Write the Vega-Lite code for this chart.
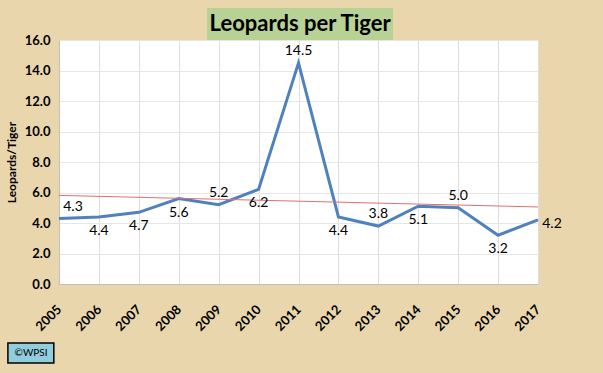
{
  "$schema": "https://vega.github.io/schema/vega-lite/v6.json",
  "width": 479,
  "height": 244,
  "autosize": {"type": "none"},
  "padding": {"left": 59, "top": 40, "right": 65, "bottom": 89},
  "background": "#E9D6AC",
  "config": {
    "view": {"fill": "white", "stroke": null},
    "font": "Lato",
    "axisX": {
      "labelAngle": -45, "labelAlign": "right", "labelBaseline": "middle",
      "labelFontWeight": "bold", "labelFontSize": 13, "labelColor": "black",
      "labelPadding": 23, "ticks": false, "grid": true, "gridColor": "#dedede",
      "domainColor": "#bfbfbf", "labelOverlap": false
    },
    "axisY": {
      "titleFontSize": 12, "titleFontWeight": "bold", "titleColor": "black", "titlePadding": 6,
      "labelFontWeight": "bold", "labelFontSize": 13, "labelColor": "black", "labelPadding": 9,
      "ticks": false, "grid": true, "gridColor": "#e6e6e6", "domainColor": "#bfbfbf"
    }
  },
  "datasets": {
    "series": [
      {"year": 2005, "ratio": 4.3},
      {"year": 2006, "ratio": 4.4},
      {"year": 2007, "ratio": 4.7},
      {"year": 2008, "ratio": 5.6},
      {"year": 2009, "ratio": 5.2},
      {"year": 2010, "ratio": 6.2},
      {"year": 2011, "ratio": 14.5},
      {"year": 2012, "ratio": 4.4},
      {"year": 2013, "ratio": 3.8},
      {"year": 2014, "ratio": 5.1},
      {"year": 2015, "ratio": 5.0},
      {"year": 2016, "ratio": 3.2},
      {"year": 2017, "ratio": 4.2}
    ],
    "titlebox": [{"label": "Leopards per Tiger"}],
    "credit": [{"label": "©WPSI"}]
  },
  "layer": [
    {
      "data": {"name": "series"},
      "encoding": {
        "x": {
          "field": "year", "type": "quantitative",
          "scale": {"domain": [2005, 2017], "nice": false, "zero": false},
          "axis": {"title": null, "format": "d", "values": [2005, 2006, 2007, 2008, 2009, 2010, 2011, 2012, 2013, 2014, 2015, 2016, 2017]}
        },
        "y": {
          "field": "ratio", "type": "quantitative",
          "scale": {"domain": [0, 16], "nice": false},
          "axis": {"title": "Leopards/Tiger", "format": ".1f", "values": [0, 2, 4, 6, 8, 10, 12, 14, 16]}
        }
      },
      "layer": [
        {"mark": {"type": "line", "color": "#4F81BD", "strokeWidth": 3}},
        {
          "transform": [{"regression": "ratio", "on": "year"}],
          "mark": {"type": "line", "color": "#E07070", "strokeWidth": 1}
        },
        {
          "transform": [{"filter": {"field": "year", "oneOf": [2009, 2011, 2013, 2015]}}],
          "mark": {"type": "text", "dy": -12, "fontSize": 14, "color": "black"},
          "encoding": {"text": {"field": "ratio", "format": ".1f"}}
        },
        {
          "transform": [{"filter": {"field": "year", "oneOf": [2006, 2007, 2008, 2010, 2012, 2014, 2016]}}],
          "mark": {"type": "text", "dy": 14, "fontSize": 14, "color": "black"},
          "encoding": {"text": {"field": "ratio", "format": ".1f"}}
        },
        {
          "transform": [{"filter": {"field": "year", "oneOf": [2005]}}],
          "mark": {"type": "text", "dx": 14, "dy": -11, "fontSize": 14, "color": "black"},
          "encoding": {"text": {"field": "ratio", "format": ".1f"}}
        },
        {
          "transform": [{"filter": {"field": "year", "oneOf": [2017]}}],
          "mark": {"type": "text", "dx": 14, "dy": 4, "fontSize": 14, "color": "black"},
          "encoding": {"text": {"field": "ratio", "format": ".1f"}}
        }
      ]
    },
    {
      "data": {"name": "titlebox"},
      "layer": [
        {
          "mark": {"type": "rect", "color": "#B8D194"},
          "encoding": {
            "x": {"datum": 2008.71, "type": "quantitative", "axis": {"title": null, "format": "d", "values": [2005, 2006, 2007, 2008, 2009, 2010, 2011, 2012, 2013, 2014, 2015, 2016, 2017]}},
            "x2": {"datum": 2013.37},
            "y": {"datum": 18.1, "type": "quantitative", "axis": {"title": "Leopards/Tiger", "format": ".1f", "values": [0, 2, 4, 6, 8, 10, 12, 14, 16]}},
            "y2": {"datum": 16.0}
          }
        },
        {
          "mark": {"type": "text", "fontSize": 22, "fontWeight": "bold", "color": "black", "baseline": "middle"},
          "encoding": {
            "x": {"datum": 2011.04, "type": "quantitative", "axis": {"title": null, "format": "d", "values": [2005, 2006, 2007, 2008, 2009, 2010, 2011, 2012, 2013, 2014, 2015, 2016, 2017]}},
            "y": {"datum": 17.02, "type": "quantitative", "axis": {"title": "Leopards/Tiger", "format": ".1f", "values": [0, 2, 4, 6, 8, 10, 12, 14, 16]}},
            "text": {"field": "label"}
          }
        }
      ]
    },
    {
      "data": {"name": "credit"},
      "layer": [
        {
          "mark": {"type": "rect", "color": "#92CDDC", "stroke": "black", "strokeWidth": 1.5},
          "encoding": {
            "x": {"datum": 2003.72, "type": "quantitative", "axis": {"title": null, "format": "d", "values": [2005, 2006, 2007, 2008, 2009, 2010, 2011, 2012, 2013, 2014, 2015, 2016, 2017]}},
            "x2": {"datum": 2004.87},
            "y": {"datum": -3.87, "type": "quantitative", "axis": {"title": "Leopards/Tiger", "format": ".1f", "values": [0, 2, 4, 6, 8, 10, 12, 14, 16]}},
            "y2": {"datum": -5.18}
          }
        },
        {
          "mark": {"type": "text", "fontSize": 10, "color": "black", "baseline": "middle"},
          "encoding": {
            "x": {"datum": 2004.3, "type": "quantitative", "axis": {"title": null, "format": "d", "values": [2005, 2006, 2007, 2008, 2009, 2010, 2011, 2012, 2013, 2014, 2015, 2016, 2017]}},
            "y": {"datum": -4.52, "type": "quantitative", "axis": {"title": "Leopards/Tiger", "format": ".1f", "values": [0, 2, 4, 6, 8, 10, 12, 14, 16]}},
            "text": {"field": "label"}
          }
        }
      ]
    }
  ]
}
